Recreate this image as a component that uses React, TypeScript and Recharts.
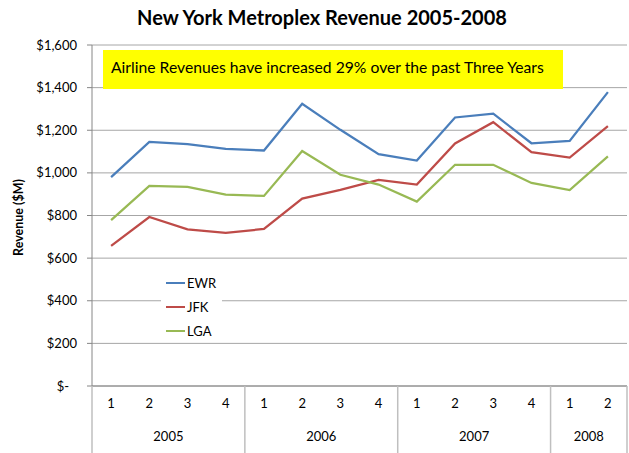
import React from 'react';
import { LineChart, Line, XAxis, YAxis, CartesianGrid, Legend } from 'recharts';

const QUARTERS = ['1', '2', '3', '4', '1', '2', '3', '4', '1', '2', '3', '4', '1', '2'];
const YEARS = ['2005', '2005', '2005', '2005', '2006', '2006', '2006', '2006', '2007', '2007', '2007', '2007', '2008', '2008'];
const EWR = [980, 1145, 1135, 1113, 1105, 1324, 1202, 1088, 1058, 1260, 1278, 1139, 1150, 1379];
const JFK = [657, 793, 735, 718, 737, 879, 920, 967, 945, 1138, 1238, 1097, 1072, 1219];
const LGA = [778, 939, 934, 898, 892, 1103, 991, 945, 865, 1038, 1038, 953, 919, 1077];
const Y_TICKS = [0, 200, 400, 600, 800, 1000, 1200, 1400, 1600];
const SERIES = [
  { key: 'EWR', color: '#4A7EBB' },
  { key: 'JFK', color: '#BE4B48' },
  { key: 'LGA', color: '#98B954' },
];
const TITLE = 'New York Metroplex Revenue 2005-2008';
const NOTE = 'Airline Revenues have increased 29% over the past Three Years';

const data = QUARTERS.map((q, i) => ({ idx: i, q, year: YEARS[i], EWR: EWR[i], JFK: JFK[i], LGA: LGA[i] }));

const FONT = 'Lato, "Open Sans", sans-serif';
const W = 629;
const H = 453;
const MARGIN = { top: 45, right: 2, bottom: 0, left: 0 };
const Y_W = 92;
const X_H = 67;
const PLOT_W = W - MARGIN.left - MARGIN.right - Y_W;
const STEP = PLOT_W / QUARTERS.length;

const fmt = (v: number) => (v === 0 ? '$-' : '$' + v.toLocaleString('en-US'));

const YTick = (props: any) => {
  const { x, y, payload } = props;
  const v = payload.value;
  return (
    <text x={v === 0 ? x - 8 : x} y={y} dy={4.5} textAnchor="end" fontSize={13} fill="#000" fontFamily={FONT}>
      {fmt(v)}
    </text>
  );
};

const XTick = (props: any) => {
  const { x, y, index } = props;
  const half = STEP / 2;
  const bottom = H;
  const isFirst = index === 0 || YEARS[index] !== YEARS[index - 1];
  const isLast = index === QUARTERS.length - 1;
  let yearLabel = null;
  if (isFirst) {
    let n = 0;
    while (index + n < YEARS.length && YEARS[index + n] === YEARS[index]) n++;
    const cx = x - half + (n * STEP) / 2;
    yearLabel = (
      <text x={cx} y={y + 55} textAnchor="middle" fontSize={13} fill="#000" fontFamily={FONT}>
        {YEARS[index]}
      </text>
    );
  }
  return (
    <g>
      <text x={x} y={y + 22} textAnchor="middle" fontSize={13} fill="#000" fontFamily={FONT}>
        {QUARTERS[index]}
      </text>
      {yearLabel}
      {isFirst && <line x1={x - half} x2={x - half} y1={y} y2={bottom} stroke="#BFBFBF" strokeWidth={1.5} />}
      {isLast && <line x1={x + half} x2={x + half} y1={y} y2={bottom} stroke="#BFBFBF" strokeWidth={1.5} />}
    </g>
  );
};

const LegendContent = (props: any) => {
  const { payload } = props;
  return (
    <div style={{ background: '#fff', width: 61, height: 70, fontFamily: FONT, fontSize: 13 }}>
      {(payload || []).map((p: any) => (
        <div key={p.value} style={{ height: 24, display: 'flex', alignItems: 'center' }}>
          <div style={{ width: 19, height: 2, background: p.color, marginLeft: 5, marginRight: 2 }} />
          <span style={{ color: '#000' }}>{p.value}</span>
        </div>
      ))}
    </div>
  );
};

const YLabel = (props: any) => {
  const vb = props.viewBox || { x: 0, y: 0, width: 0, height: 0 };
  const cx = vb.x + 18;
  const cy = vb.y + vb.height / 2 + 2;
  return (
    <text x={cx} y={cy} transform={`rotate(-90 ${cx} ${cy})`} textAnchor="middle" dominantBaseline="central" fontSize={12.5} fontWeight="bold" fill="#000" fontFamily={FONT}>
      Revenue ($M)
    </text>
  );
};

export default function App() {
  return (
    <div style={{ position: 'absolute', left: 0, top: 0, width: W, height: H, background: '#fff', fontFamily: FONT }}>
      <div style={{ position: 'absolute', left: 0, top: 4, width: 644, textAlign: 'center', fontSize: 20, fontWeight: 'bold', color: '#000', lineHeight: '26px' }}>
        {TITLE}
      </div>
      <LineChart width={W} height={H} data={data} margin={MARGIN}>
        <CartesianGrid vertical={false} stroke="#A6A6A6" strokeWidth={1} />
        <XAxis
          dataKey="idx"
          height={X_H}
          padding={{ left: STEP / 2, right: STEP / 2 }}
          axisLine={{ stroke: '#868686', strokeWidth: 1 }}
          tickLine={false}
          tickSize={0}
          tickMargin={0}
          interval={0}
          tick={<XTick />}
        />
        <YAxis
          width={Y_W}
          domain={[0, 1600]}
          ticks={Y_TICKS}
          interval={0}
          axisLine={{ stroke: '#868686', strokeWidth: 1 }}
          tickLine={{ stroke: '#868686' }}
          tickSize={5}
          tickMargin={10}
          tick={<YTick />}
          label={<YLabel />}
        />
        {SERIES.map((s) => (
          <Line key={s.key} type="linear" dataKey={s.key} stroke={s.color} strokeWidth={2.25} dot={false} activeDot={false} isAnimationActive={false} />
        ))}
        <Legend
          layout="horizontal"
          verticalAlign="middle"
          align="center"
          content={<LegendContent />}
          wrapperStyle={{ position: 'absolute', left: 161, top: 271, width: 61, height: 70 }}
        />
      </LineChart>
      <div style={{ position: 'absolute', left: 103, top: 50, width: 460, height: 39, background: '#FFFF00', boxSizing: 'border-box', paddingLeft: 8, paddingTop: 7, fontSize: 15.7, color: '#000', lineHeight: '20px', whiteSpace: 'nowrap' }}>
        {NOTE}
      </div>
    </div>
  );
}
